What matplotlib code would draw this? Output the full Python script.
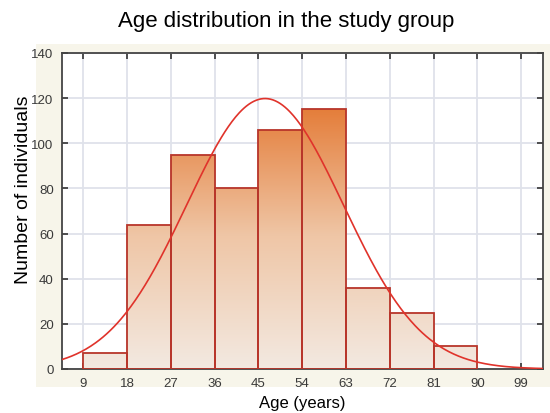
import numpy as np
import matplotlib
matplotlib.use("Agg")
import matplotlib.pyplot as plt
from matplotlib.patches import Rectangle
from matplotlib.colors import LinearSegmentedColormap

# ---- data ----
bin_edges = [9, 18, 27, 36, 45, 54, 63, 72, 81, 90]
counts = [7, 64, 95, 80, 106, 115, 36, 25, 10]
x_ticks = [9, 18, 27, 36, 45, 54, 63, 72, 81, 90, 99]
y_ticks = [0, 20, 40, 60, 80, 100, 120, 140]

plt.rcParams['font.family'] = ['Liberation Sans', 'DejaVu Sans']

fig = plt.figure(figsize=(5.5, 4.14), dpi=100)
fig.patch.set_facecolor('white')
# cream panel behind the plot
fig.patches.append(Rectangle((0.0655, 0.0628), 1 - 0.0655, 0.8285,
                             transform=fig.transFigure, facecolor='#f7f5ea',
                             edgecolor='none', zorder=-10))

ax = fig.add_axes([0.1127, 0.1063, 0.8745, 0.7633])
ax.set_facecolor('white')

cmap = LinearSegmentedColormap.from_list('bar', ['#f3e9e1', '#efc6a6', '#e47a35'])
grad = np.linspace(0, 1, 256).reshape(-1, 1)

edges = np.array(bin_edges, dtype=float)
cnts = np.array(counts, dtype=float)
for i, c in enumerate(cnts):
    x0, x1 = edges[i], edges[i + 1]
    im = ax.imshow(grad, extent=(x0, x1, 0, 118), origin='lower', cmap=cmap,
                   aspect='auto', zorder=2, interpolation='bilinear')
    rect = Rectangle((x0, 0), x1 - x0, c, facecolor='none',
                     edgecolor='#b8352a', linewidth=1.3, zorder=3)
    ax.add_patch(rect)
    im.set_clip_path(rect)
ax.set_xlim(4.6, 103.5)
ax.set_ylim(0, 140)

# fitted normal curve from the histogram
mids = (edges[:-1] + edges[1:]) / 2
n = cnts.sum()
mu = (mids * cnts).sum() / n
sd = np.sqrt(((mids - mu) ** 2 * cnts).sum() / n)
w = edges[1] - edges[0]
xs = np.linspace(4.6, 103.5, 400)
ys = n * w / (sd * np.sqrt(2 * np.pi)) * np.exp(-0.5 * ((xs - mu) / sd) ** 2)
ax.plot(xs, ys, color='#e0332b', linewidth=1.2, zorder=4)

ax.set_xticks(x_ticks)
ax.set_yticks(y_ticks)
ax.grid(True, color='#dfe2ea', linewidth=1.3, zorder=0)
ax.set_axisbelow(True)
ax.tick_params(direction='in', length=4, width=1.2, top=True, right=True,
               labelsize=9.5, labelcolor='#3a3a3a', color='#333333', pad=6)
for s in ax.spines.values():
    s.set_color('#444444')
    s.set_linewidth(1.3)

ax.set_xlabel('Age (years)', fontsize=12, labelpad=4)
ax.set_ylabel('Number of individuals', fontsize=14)
ax.yaxis.set_label_coords(-0.062, 0.57)
fig.text(0.52, 0.948, 'Age distribution in the study group', fontsize=16,
         ha='center', va='center')

fig.savefig('out.png', dpi=100)
